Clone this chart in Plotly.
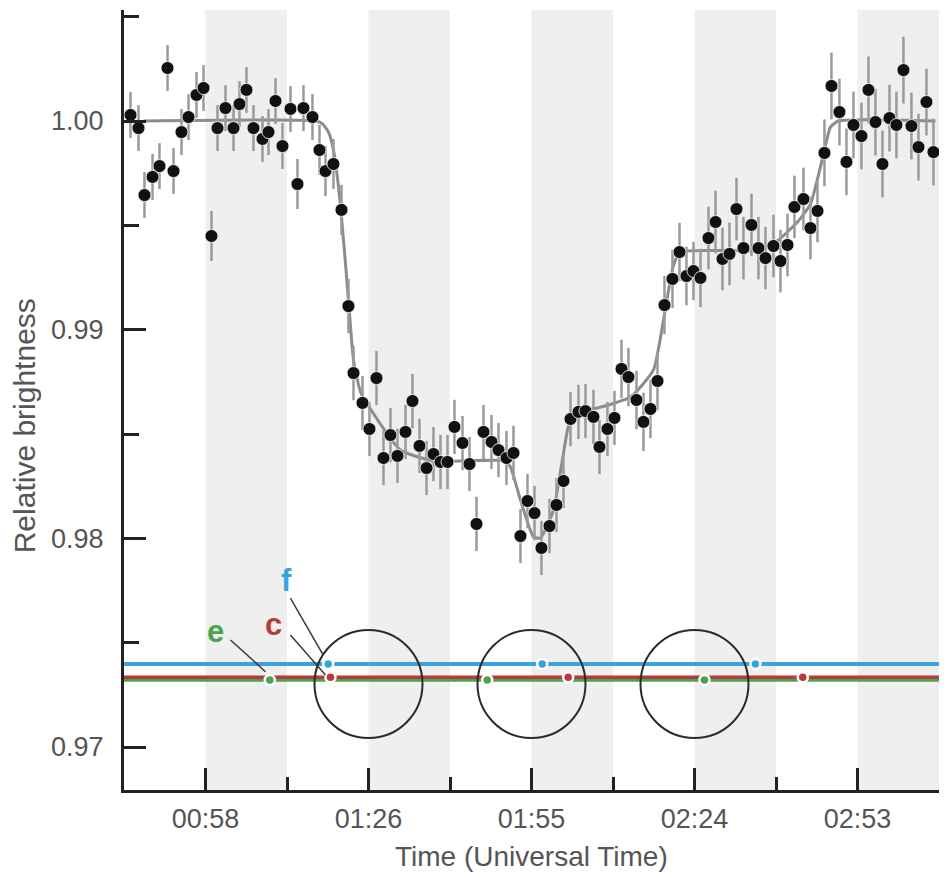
import plotly.graph_objects as go

# ---- observed light curve (time in minutes after 00:00 UT) ----
time_min = [44.35, 45.76, 46.82, 48.24, 49.47, 50.89, 51.95, 53.36, 54.60, 56.01,
            57.25, 58.66, 59.72, 61.13, 62.55, 63.61, 64.84, 66.08, 67.67, 68.73,
            69.97, 71.20, 72.62, 73.85, 74.91, 76.50, 77.74, 78.80, 80.21, 81.63,
            82.86, 83.75, 85.34, 86.57, 87.81, 89.05, 90.28, 91.52, 92.94, 94.17,
            95.41, 96.65, 97.88, 99.12, 100.36, 101.59, 103.01, 104.24, 105.48, 106.72,
            108.13, 109.37, 110.78, 112.02, 113.25, 114.49, 115.73, 116.96, 118.38, 119.61,
            120.85, 122.09, 123.50, 124.74, 126.15, 127.21, 128.62, 129.86, 131.10, 132.33,
            133.75, 134.98, 136.22, 137.46, 138.70, 140.11, 141.35, 142.58, 143.82, 145.06,
            146.47, 147.71, 148.94, 150.18, 151.42, 152.65, 154.07, 155.30, 156.54, 157.95,
            159.19, 160.43, 161.66, 163.25, 164.49, 165.73, 166.96, 168.20, 169.61, 170.85,
            172.09, 173.50, 174.74, 175.97, 177.21, 178.45, 179.68, 180.92, 182.33, 183.57,
            184.98, 186.22]

brightness = [1.00029, 0.99966, 0.99645, 0.99732, 0.99784, 1.00254, 0.99760, 0.99947, 1.00019, 1.00125,
              1.00158, 0.99449, 0.99966, 1.00062, 0.99966, 1.00081, 1.00149, 0.99966, 0.99914, 0.99947,
              1.00096, 0.99880, 1.00058, 0.99698, 1.00062, 1.00019, 0.99861, 0.99760, 0.99794, 0.99574,
              0.99113, 0.98792, 0.98649, 0.98524, 0.98768, 0.98385, 0.98495, 0.98395, 0.98510, 0.98658,
              0.98443, 0.98337, 0.98404, 0.98366, 0.98366, 0.98534, 0.98457, 0.98356, 0.98069, 0.98510,
              0.98462, 0.98423, 0.98385, 0.98409, 0.98011, 0.98179, 0.98121, 0.97954, 0.98059, 0.98160,
              0.98275, 0.98572, 0.98606, 0.98610, 0.98582, 0.98438, 0.98524, 0.98577, 0.98812, 0.98773,
              0.98663, 0.98558, 0.98620, 0.98754, 0.99118, 0.99243, 0.99372, 0.99257, 0.99281, 0.99248,
              0.99439, 0.99516, 0.99339, 0.99363, 0.99578, 0.99391, 0.99502, 0.99391, 0.99343, 0.99401,
              0.99329, 0.99406, 0.99588, 0.99626, 0.99487, 0.99569, 0.99847, 1.00168, 1.00043, 0.99804,
              0.99981, 0.99928, 1.00149, 0.99995, 0.99794, 1.00014, 0.99981, 1.00244, 0.99976, 0.99875,
              1.00091, 0.99851]

brightness_err = [0.0011, 0.0011, 0.0011, 0.0011, 0.0011, 0.0011, 0.0011, 0.0011, 0.0011, 0.0011,
                  0.0011, 0.0012, 0.0011, 0.0011, 0.0011, 0.0011, 0.0011, 0.0011, 0.0011, 0.0011,
                  0.0011, 0.0011, 0.0011, 0.0012, 0.0011, 0.0011, 0.0012, 0.0012, 0.0012, 0.0012,
                  0.0013, 0.0013, 0.0013, 0.0013, 0.0013, 0.0013, 0.0013, 0.0013, 0.0013, 0.0013,
                  0.0013, 0.0013, 0.0013, 0.0013, 0.0013, 0.0013, 0.0013, 0.0013, 0.0013, 0.0013,
                  0.0013, 0.0013, 0.0013, 0.0013, 0.0013, 0.0013, 0.0013, 0.0013, 0.0013, 0.0013,
                  0.0013, 0.0013, 0.0013, 0.0013, 0.0013, 0.0013, 0.0013, 0.0013, 0.0014, 0.0014,
                  0.0014, 0.0014, 0.0014, 0.0014, 0.0014, 0.0014, 0.0014, 0.0014, 0.0014, 0.0014,
                  0.0015, 0.0015, 0.0015, 0.0015, 0.0015, 0.0015, 0.0015, 0.0015, 0.0015, 0.0015,
                  0.0015, 0.0015, 0.0015, 0.0015, 0.0015, 0.0015, 0.0016, 0.0016, 0.0016, 0.0016,
                  0.0016, 0.0016, 0.0016, 0.0016, 0.0016, 0.0016, 0.0016, 0.0016, 0.0016, 0.0016,
                  0.0016, 0.0016]

# ---- model light curve ----
model_time = [46.65, 77.21, 78.27, 79.33, 80.21, 81.45, 82.86, 83.75, 84.99, 86.40,
              92.05, 97.88, 110.60, 111.49, 113.25, 115.55, 116.79, 119.08, 121.56, 122.62,
              126.86, 132.69, 136.75, 138.52, 140.29, 141.52, 155.66, 158.84, 162.19, 164.49,
              165.90, 166.96, 168.02, 169.44, 186.58]
model_brightness = [1.0, 1.0, 0.99986, 0.99947, 0.99861, 0.99597, 0.99142, 0.98855, 0.98701, 0.98634,
                    0.98423, 0.98371, 0.98371, 0.98342, 0.98184, 0.98007, 0.98002, 0.98136, 0.98519, 0.98606,
                    0.98625, 0.98677, 0.98807, 0.99046, 0.99310, 0.99372, 0.99382, 0.99430, 0.99516, 0.99602,
                    0.99741, 0.99861, 0.99971, 1.0, 1.0]

# ---- satellite tracks (f, c, e) ----
track_names = ["e", "c", "f"]
track_colors = {"f": "#3aa3db", "c": "#b8393a", "e": "#4ba34d"}
track_level = {"f": 0.97398, "c": 0.97334, "e": 0.97321}
track_dot_times = {"f": [79.28, 117.09, 154.77],
                   "c": [79.68, 121.68, 163.13],
                   "e": [68.96, 107.37, 145.76]}

# labels and leader lines for the tracks
label_pos = {"f": (71.91, 0.97800), "c": (69.61, 0.97585), "e": (59.37, 0.97556)}
leader_from = {"f": (72.60, 0.97714), "c": (72.60, 0.97537), "e": (62.02, 0.97513)}
leader_to = {"f": (78.38, 0.97441), "c": (78.80, 0.97345), "e": (68.20, 0.97361)}

# planet disc outlines at three epochs
disc_times = [86.4, 115.2, 144.0]
disc_level = 0.97302
disc_radius_min = 9.54
disc_radius_bright = 0.002588

# axis settings
x_range = [43.2, 187.2]
y_range = [0.96794, 1.00532]
x_major = [57.6, 86.4, 115.2, 144.0, 172.8]
x_labels = ["00:58", "01:26", "01:55", "02:24", "02:53"]
x_minor = [72.0, 100.8, 129.6, 158.4, 187.2]
y_major = [0.97, 0.98, 0.99, 1.00]
y_labels = ["0.97", "0.98", "0.99", "1.00"]
y_minor = [0.975, 0.985, 0.995, 1.005]
band_starts = [57.6, 86.4, 115.2, 144.0, 172.8]
band_width = 14.4

FONT = "Liberation Sans, Arial, Helvetica, sans-serif"
TEXT_GREY = "#555555"
AXIS_COL = "#222222"

fig = go.Figure()

# model curve
fig.add_trace(go.Scatter(
    x=model_time, y=model_brightness, mode="lines",
    line=dict(color="#8c8c8c", width=3, shape="spline", smoothing=0.5),
    hoverinfo="skip", showlegend=False))

# observations with error bars
fig.add_trace(go.Scatter(
    x=time_min, y=brightness, mode="markers",
    marker=dict(color="#111111", size=13, line=dict(color="#ffffff", width=0.8)),
    error_y=dict(type="data", array=brightness_err, color="#9a9a9a", thickness=2.5, width=0),
    showlegend=False))

# satellite tracks
for name in track_names:
    lvl = track_level[name]
    fig.add_trace(go.Scatter(
        x=x_range, y=[lvl, lvl], mode="lines",
        line=dict(color=track_colors[name], width=4 if name == "f" else 3.5),
        hoverinfo="skip", showlegend=False))
for name in track_names:
    lvl = track_level[name]
    fig.add_trace(go.Scatter(
        x=track_dot_times[name], y=[lvl] * len(track_dot_times[name]), mode="markers",
        marker=dict(color=track_colors[name], size=10, line=dict(color="#ffffff", width=2.5)),
        showlegend=False))

shapes = []
for b0 in band_starts:
    shapes.append(dict(type="rect", xref="x", yref="paper", x0=b0, x1=b0 + band_width,
                       y0=0, y1=1, fillcolor="#efefef", line=dict(width=0), layer="below"))
for tc in disc_times:
    shapes.append(dict(type="circle", xref="x", yref="y",
                       x0=tc - disc_radius_min, x1=tc + disc_radius_min,
                       y0=disc_level - disc_radius_bright, y1=disc_level + disc_radius_bright,
                       line=dict(color="#2b2b2b", width=2)))
for name in track_names:
    (xa, ya), (xb, yb) = leader_from[name], leader_to[name]
    shapes.append(dict(type="line", xref="x", yref="y", x0=xa, y0=ya, x1=xb, y1=yb,
                       line=dict(color="#3a3a3a", width=1.5)))

annotations = []
for name in track_names:
    lx, ly = label_pos[name]
    annotations.append(dict(x=lx, y=ly, xref="x", yref="y", text=name, showarrow=False,
                            font=dict(family=FONT, size=31, color=track_colors[name], weight="bold")))

annotations.append(dict(text="Time (Universal Time)", xref="paper", yref="paper",
                        x=0.5, y=-0.108, xanchor="center", yanchor="bottom", showarrow=False,
                        font=dict(family=FONT, size=28, color=TEXT_GREY)))
annotations.append(dict(text="Relative brightness", xref="paper", yref="paper",
                        x=-0.122, y=0.467, xanchor="center", yanchor="middle", showarrow=False,
                        textangle=-90, font=dict(family=FONT, size=30, color=TEXT_GREY)))

fig.update_layout(
    width=944, height=872,
    margin=dict(l=124, r=5, t=10, b=82),
    paper_bgcolor="white", plot_bgcolor="white",
    shapes=shapes, annotations=annotations,
    showlegend=False,
    xaxis=dict(range=x_range, showgrid=False, zeroline=False,
               showline=True, linecolor=AXIS_COL, linewidth=3,
               ticks="inside", ticklen=22, tickwidth=2.5, tickcolor=AXIS_COL,
               tickmode="array", tickvals=x_major, ticktext=x_labels,
               ticklabelstandoff=3,
               tickfont=dict(family=FONT, size=27, color=TEXT_GREY),
               minor=dict(ticks="inside", tickvals=x_minor, ticklen=13, tickwidth=2.5,
                          tickcolor=AXIS_COL, showgrid=False)),
    yaxis=dict(range=y_range, showgrid=False, zeroline=False,
               showline=True, linecolor=AXIS_COL, linewidth=3,
               ticks="inside", ticklen=22, tickwidth=2.5, tickcolor=AXIS_COL,
               tickmode="array", tickvals=y_major, ticktext=y_labels,
               ticklabelstandoff=12,
               tickfont=dict(family=FONT, size=27, color=TEXT_GREY),
               minor=dict(ticks="inside", tickvals=y_minor, ticklen=15, tickwidth=2.5,
                          tickcolor=AXIS_COL, showgrid=False)),
)

fig.write_html("out.html")
